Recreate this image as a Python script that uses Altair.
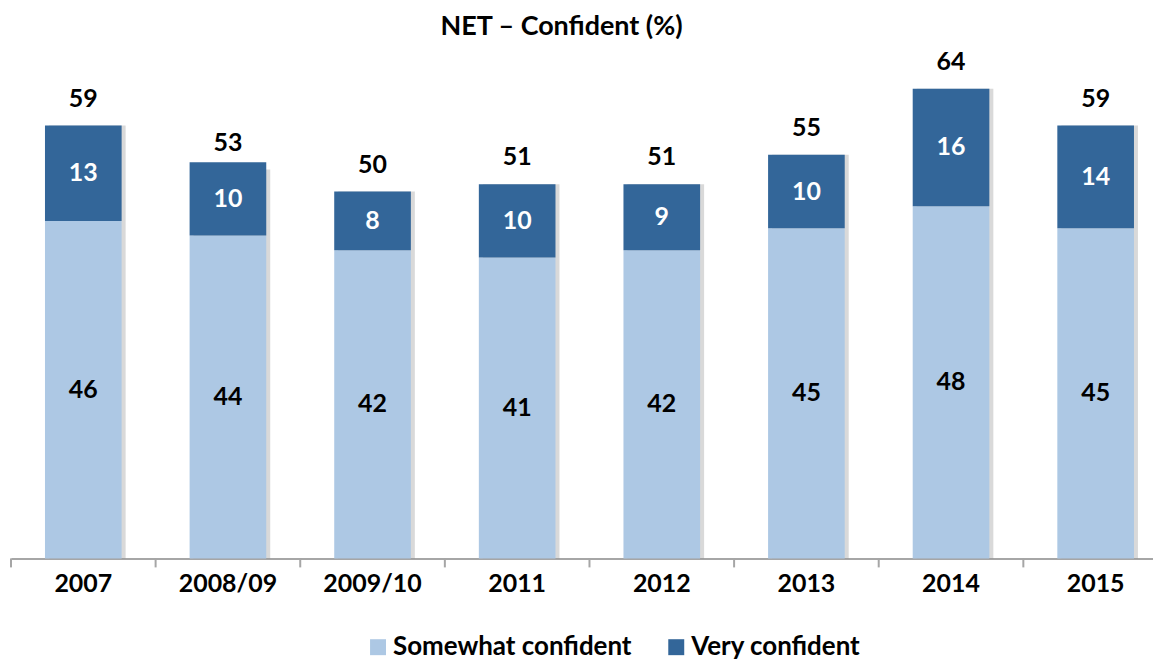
import altair as alt
import pandas as pd

years = ["2007", "2008/09", "2009/10", "2011", "2012", "2013", "2014", "2015"]
somewhat = [46, 44, 42, 41, 42, 45, 48, 45]
very = [13, 10, 8, 10, 9, 10, 16, 14]
totals = [59, 53, 50, 51, 51, 55, 64, 59]

series_names = ["Somewhat confident", "Very confident"]
series_colors = ["#adc8e4", "#336699"]
title_text = ["NET – Confident (%)"]

FONT = "Lato"
FS = 25

df = pd.DataFrame({"year": years, "somewhat": somewhat, "very": very, "total": totals})

xscale = alt.Scale(range=[0, 1160], paddingInner=0, paddingOuter=0)
yscale = alt.Scale(domain=[0, 70])

x_enc = alt.X("year:N", sort=years, scale=xscale,
              axis=alt.Axis(title=None, labelFont=FONT, labelFontSize=FS,
                            labelFontWeight="bold", labelColor="black",
                            labelAngle=0, labelPadding=13, ticks=False,
                            domainColor="#a6a6a6", domainWidth=2))

base = alt.Chart(df)

shadow = base.mark_bar(width=alt.RelativeBandSize(0.53), xOffset=4,
                       color="#808080", opacity=0.3).encode(
    x=x_enc,
    y=alt.Y("total:Q", scale=yscale, axis=None),
)

bars = base.transform_fold(["somewhat", "very"], as_=["key", "value"]).transform_calculate(
    series="datum.key == 'somewhat' ? 'Somewhat confident' : 'Very confident'",
    ord="datum.key == 'somewhat' ? 0 : 1",
).mark_bar(width=alt.RelativeBandSize(0.53)).encode(
    x=x_enc,
    y=alt.Y("value:Q", stack="zero", scale=yscale, axis=None),
    color=alt.Color("series:N",
                    scale=alt.Scale(domain=series_names, range=series_colors),
                    legend=alt.Legend(title=None, orient="none", direction="horizontal",
                                      legendX=355, legendY=591, padding=0,
                                      symbolType="square", symbolSize=256,
                                      symbolStrokeWidth=0, labelFont=FONT,
                                      labelFontSize=26, labelFontWeight="bold",
                                      labelColor="black", labelOffset=2,
                                      labelLimit=400, columnPadding=31)),
    order=alt.Order("ord:Q", sort="ascending"),
)

ticks = base.mark_rule(color="#a6a6a6", strokeWidth=2).encode(
    x=alt.X("year:N", sort=years, scale=xscale, bandPosition=0),
    y=alt.value(515),
    y2=alt.value(524),
)

lab_some = base.transform_calculate(mid="datum.somewhat / 2").mark_text(
    font=FONT, fontSize=FS, fontWeight="bold", color="black", baseline="middle"
).encode(x=x_enc, y=alt.Y("mid:Q", scale=yscale), text="somewhat:Q")

lab_very = base.transform_calculate(mid="datum.somewhat + datum.very / 2").mark_text(
    font=FONT, fontSize=FS, fontWeight="bold", color="white", baseline="middle"
).encode(x=x_enc, y=alt.Y("mid:Q", scale=yscale), text="very:Q")

lab_tot = base.mark_text(
    font=FONT, fontSize=FS, fontWeight="bold", color="black", baseline="middle", dy=-27
).encode(x=x_enc, y=alt.Y("total:Q", scale=yscale), text="total:Q")

title = alt.Chart(pd.DataFrame({"t": title_text})).mark_text(
    font=FONT, fontSize=27, fontWeight="bold", color="black",
    baseline="alphabetic", align="center"
).encode(x=alt.value(552), y=alt.value(-10), text="t:N")

chart = alt.layer(shadow, bars, ticks, lab_some, lab_very, lab_tot, title).properties(
    width=1145,
    height=515,
    padding={"left": 3, "top": 36, "right": 0, "bottom": 108},
    autosize=alt.AutoSizeParams(type="none"),
).configure_view(stroke=None)

chart.save("out.html", embed_options={"renderer": "svg", "actions": False})
